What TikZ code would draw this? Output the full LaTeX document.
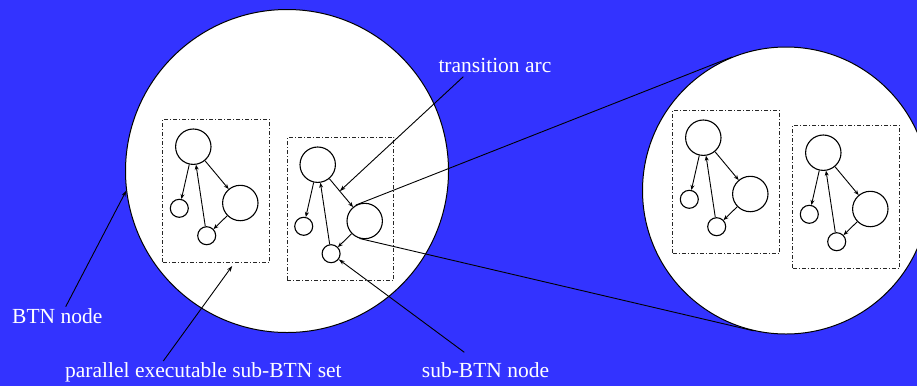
\documentclass[tikz,border=0pt]{standalone}
\usepackage{fontspec}
\setmainfont{Liberation Serif}
\usetikzlibrary{arrows.meta,calc}
\definecolor{bgblue}{RGB}{51,51,255}
\tikzset{
 big/.style={circle,draw=black,fill=white,line width=1pt,inner sep=0pt,minimum size=#1},
 sub/.style={circle,draw=black,line width=1.1pt,inner sep=0pt,minimum size=#1},
 setbox/.style={draw=black!85,line width=0.9pt,dash pattern=on 4pt off 2pt on 1pt off 2pt,inner sep=0pt,minimum width=106.7pt,minimum height=143pt,anchor=north west},
 arcline/.style={line width=0.9pt,-{Stealth[length=5pt,width=4pt]}},
 ptr/.style={line width=0.9pt,-{Stealth[length=6pt,width=4pt]}},
 zoomline/.style={line width=0.9pt},
 lbl/.style={text=white,font=\fontsize{21.5}{25}\selectfont,inner sep=0pt,anchor=base west}
}
\newcommand\btncluster[3]{%
 \begin{scope}[shift={(#2,#3)}]
  \node[setbox] (#1box) at (0,0) {};
  \node[sub=35.4pt] (#1top) at (31,27.7) {};
  \node[sub=18pt] (#1sl) at (17,89.3) {};
  \node[sub=35.4pt] (#1med) at (78,84) {};
  \node[sub=18pt] (#1bot) at (44.4,116.7) {};
  \draw[arcline] (#1top) -- (#1sl);
  \draw[arcline] (#1top) -- (#1med);
  \draw[arcline] (#1bot) -- (#1top);
  \draw[arcline] (#1med) -- (#1bot);
 \end{scope}}
\begin{document}
\begin{tikzpicture}[x=1pt,y=-1pt]
\useasboundingbox (0,0) rectangle (917,386);
\clip (0,0) rectangle (917,386);
\fill[bgblue] (0,0) rectangle (917,386);
% big circles
\node[big=323pt] (bigL) at (287,171) {};
\node[big=287pt] (bigR) at (786,190.5) {};
% clusters
\btncluster{La}{162.3}{119}
\btncluster{Lb}{286.7}{137}
\btncluster{Ra}{672.3}{110}
\btncluster{Rb}{792.3}{125}
% labels
\node[lbl] (ltrans) at (438.3,72.7) {transition arc};
\node[lbl] (lbtn) at (12,323.3) {BTN node};
\node[lbl] (lpar) at (65,377.3) {parallel executable sub-BTN set};
\node[lbl] (lsub) at (421.7,377.3) {sub-BTN node};
% pointer start points and targets
\coordinate (ptrans) at (463.3,76.7);
\coordinate (pbtn) at (65.7,306.7);
\coordinate (ppar) at (163.3,361);
\coordinate (psub) at (464.3,352.3);
\coordinate (ttrans) at ($(Lbtop)!0.47!(Lbmed)$);
\coordinate (tpar) at ($(Labox.south west)!0.65!(Labox.south east)+(0,3)$);
\draw[ptr] (ptrans) -- (ttrans);
\draw[ptr] (pbtn) -- (bigL.187.4);
\draw[ptr] (ppar) -- (tpar);
\draw[ptr] (psub) -- (Lbbot);
% zoom lines
\draw[zoomline] (Lbmed.119.5) -- (bigR.112.7);
\draw[zoomline] (Lbmed.253.3) -- (bigR.257);
\end{tikzpicture}
\end{document}
